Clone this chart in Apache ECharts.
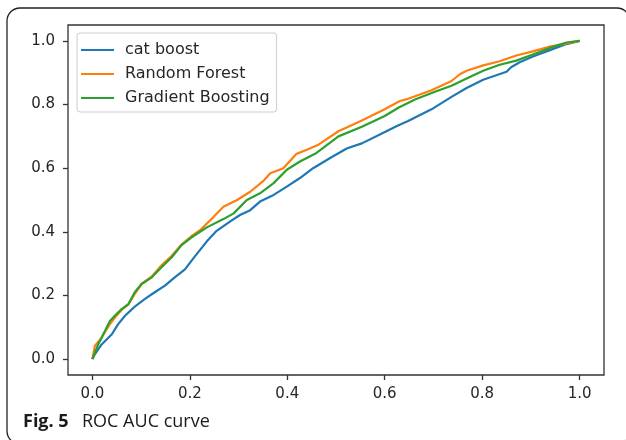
<!DOCTYPE html>
<html>
<head>
<meta charset="utf-8">
<script src="https://cdn.jsdelivr.net/npm/echarts@6/dist/echarts.min.js"></script>
<style>
html,body{margin:0;padding:0;background:#fff;}
#chart{width:626px;height:440px;}
</style>
</head>
<body>
<div id="chart"></div>
<script>
// Tick labels
var xTicks = [0, 0.2, 0.4, 0.6, 0.8, 1.0];
var yTicks = [0, 0.2, 0.4, 0.6, 0.8, 1.0];
var seriesNames = ['cat boost', 'Random Forest', 'Gradient Boosting'];

// cat boost
var catFpr = [0, 0.005, 0.019, 0.04, 0.053, 0.067, 0.087, 0.108, 0.128, 0.149, 0.169, 0.19, 0.21, 0.235, 0.255, 0.283, 0.303, 0.324, 0.344, 0.372, 0.399, 0.426, 0.453, 0.488, 0.522, 0.553, 0.59, 0.624, 0.648, 0.696, 0.737, 0.768, 0.802, 0.85, 0.86, 0.877, 0.904, 0.939, 0.973, 1];
var catTpr = [0, 0.015, 0.046, 0.078, 0.11, 0.136, 0.165, 0.189, 0.21, 0.231, 0.257, 0.282, 0.322, 0.37, 0.403, 0.433, 0.453, 0.468, 0.495, 0.516, 0.542, 0.569, 0.6, 0.632, 0.662, 0.678, 0.706, 0.732, 0.748, 0.785, 0.824, 0.852, 0.878, 0.903, 0.918, 0.933, 0.951, 0.971, 0.99, 1];

// Random Forest
var rfFpr = [0, 0.005, 0.019, 0.026, 0.036, 0.046, 0.06, 0.074, 0.087, 0.101, 0.122, 0.142, 0.163, 0.183, 0.203, 0.221, 0.249, 0.269, 0.297, 0.324, 0.351, 0.365, 0.392, 0.419, 0.44, 0.464, 0.505, 0.553, 0.6, 0.631, 0.648, 0.696, 0.737, 0.755, 0.768, 0.802, 0.836, 0.87, 0.904, 0.939, 1];
var rfTpr = [0, 0.041, 0.067, 0.085, 0.11, 0.13, 0.155, 0.172, 0.205, 0.236, 0.26, 0.295, 0.325, 0.36, 0.386, 0.405, 0.447, 0.479, 0.5, 0.526, 0.56, 0.584, 0.6, 0.645, 0.658, 0.674, 0.716, 0.75, 0.785, 0.811, 0.818, 0.845, 0.874, 0.896, 0.906, 0.923, 0.936, 0.954, 0.967, 0.982, 1];

// Gradient Boosting
var gbFpr = [0, 0.012, 0.026, 0.036, 0.046, 0.06, 0.074, 0.087, 0.101, 0.122, 0.142, 0.163, 0.183, 0.203, 0.235, 0.269, 0.29, 0.317, 0.344, 0.372, 0.399, 0.426, 0.46, 0.505, 0.553, 0.6, 0.628, 0.662, 0.703, 0.737, 0.768, 0.802, 0.836, 0.87, 0.904, 0.939, 0.973, 1];
var gbTpr = [0, 0.046, 0.089, 0.12, 0.136, 0.157, 0.173, 0.21, 0.236, 0.257, 0.289, 0.32, 0.358, 0.382, 0.414, 0.44, 0.458, 0.5, 0.521, 0.553, 0.595, 0.621, 0.648, 0.7, 0.73, 0.764, 0.79, 0.816, 0.84, 0.859, 0.882, 0.906, 0.925, 0.938, 0.957, 0.978, 0.995, 1];

var colors = ['#1f77b4', '#ff7f0e', '#2ca02c'];

function zip(xs, ys) { return xs.map(function (x, i) { return [x, ys[i]]; }); }

var chart = echarts.init(document.getElementById('chart'), null, {renderer: 'canvas'});

function mkSeries(name, xs, ys, color) {
  return {
    name: name,
    type: 'line',
    data: zip(xs, ys),
    showSymbol: false,
    symbol: 'none',
    smooth: false,
    animation: false,
    lineStyle: {color: color, width: 2.2},
    itemStyle: {color: color},
    emphasis: {disabled: true}
  };
}

var tickFont = {fontFamily: 'DejaVu Sans', fontSize: 15, color: '#262626'};

var option = {
  animation: false,
  backgroundColor: '#ffffff',
  grid: {
    left: 68, right: 22, top: 25, bottom: 65,
    show: true, borderColor: '#333333', borderWidth: 1.3, backgroundColor: '#ffffff'
  },
  xAxis: {
    type: 'value', min: -0.05, max: 1.05,
    splitLine: {show: false},
    axisLine: {show: false, onZero: false},
    axisTick: {show: true, inside: false, length: 5, lineStyle: {color: '#333', width: 1.3}, customValues: xTicks},
    axisLabel: Object.assign({margin: 12, customValues: xTicks, formatter: function (v) { return v.toFixed(1); }}, tickFont)
  },
  yAxis: {
    type: 'value', min: -0.05, max: 1.05,
    splitLine: {show: false},
    axisLine: {show: false, onZero: false},
    axisTick: {show: true, inside: false, length: 5, lineStyle: {color: '#333', width: 1.3}, customValues: yTicks},
    axisLabel: Object.assign({margin: 13, customValues: yTicks, formatter: function (v) { return v.toFixed(1); }}, tickFont)
  },
  legend: {
    orient: 'vertical',
    left: 77, top: 33,
    data: seriesNames,
    icon: 'rect',
    itemWidth: 33, itemHeight: 2,
    itemGap: 6,
    padding: [8, 7, 5, 4],
    borderColor: '#cccccc', borderWidth: 1, borderRadius: 3,
    backgroundColor: 'rgba(255,255,255,0.85)',
    textStyle: {fontFamily: 'DejaVu Sans', fontSize: 16, color: '#262626', lineHeight: 18, padding: [0, 0, 0, 6]},
    selectedMode: false
  },
  series: [
    mkSeries(seriesNames[0], catFpr, catTpr, colors[0]),
    mkSeries(seriesNames[1], rfFpr, rfTpr, colors[1]),
    mkSeries(seriesNames[2], gbFpr, gbTpr, colors[2])
  ],
  graphic: [
    {
      type: 'rect', silent: true,
      shape: {x: 7, y: 8, width: 623, height: 436, r: 13},
      style: {fill: 'none', stroke: '#222222', lineWidth: 1.3}
    },
    {
      type: 'text', silent: true, left: 23, top: 413,
      style: {text: 'Fig. 5', fontFamily: 'Open Sans', fontWeight: 'bold', fontSize: 18, fill: '#1a1a1a'}
    },
    {
      type: 'text', silent: true, left: 82, top: 413,
      style: {text: 'ROC AUC curve', fontFamily: 'Open Sans', fontSize: 18, fill: '#1a1a1a'}
    }
  ]
};

chart.setOption(option);
</script>
</body>
</html>
